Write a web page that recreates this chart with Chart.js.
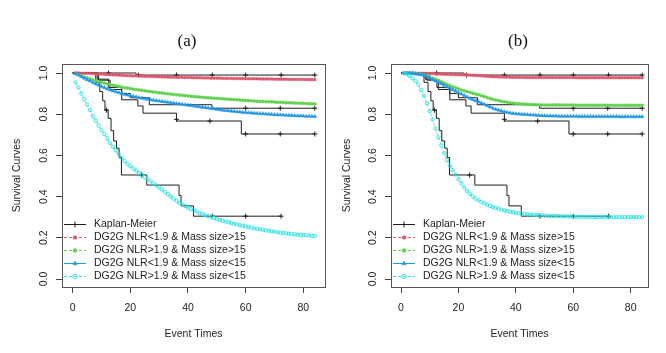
<!DOCTYPE html>
<html>
<head>
<meta charset="utf-8">
<script src="https://cdn.jsdelivr.net/npm/chart.js"></script>
<style>
  body { margin: 0; background: #fff; }
  canvas { position: absolute; top: 0; }
  #panelA { left: 0; }
  #panelB { left: 333px; }
</style>
</head>
<body>
<canvas id="panelA" width="333" height="353"></canvas>
<canvas id="panelB" width="333" height="353"></canvas>
<script>
// tiempos donde se evalúan las curvas del modelo
const tiempos = [
  1, 2, 3, 4, 5, 6, 7, 8, 9, 10,
  11, 12, 13, 14, 15, 16, 17, 18, 19, 20,
  21, 22, 23, 24, 25, 26, 27, 28, 29, 30,
  31, 32, 33, 34, 35, 36, 37, 38, 39, 40,
  41, 42, 43, 44, 45, 46, 47, 48, 49, 50,
  51, 52, 53, 54, 55, 56, 57, 58, 59, 60,
  61, 62, 63, 64, 65, 66, 67, 68, 69, 70,
  71, 72, 73, 74, 75, 76, 77, 78, 79, 80,
  81, 82, 83, 84
];
const ticksX = [0, 20, 40, 60, 80];
const ticksY = [0, 0.2, 0.4, 0.6, 0.8, 1.0];

const etiquetas = [
  'Kaplan-Meier',
  'DG2G NLR<1.9 & Mass size>15',
  'DG2G NLR>1.9 & Mass size>15',
  'DG2G NLR<1.9 & Mass size<15',
  'DG2G NLR>1.9 & Mass size<15'
];

// Kaplan-Meier (los mismos en los dos paneles)
const km1Tiempos = [0, 22, 84];
const km1Surv = [1.0, 0.99, 0.99];
const km1CensTiempos = [12.4, 22.8, 36, 48.4, 60, 72.3, 84];
const km1CensSurv = [1.0, 0.99, 0.99, 0.99, 0.99, 0.99, 0.99];

const km2Tiempos = [0, 8.5, 12.5, 17, 20, 26.6, 48.3, 84];
const km2Surv = [1.0, 0.97, 0.93, 0.90, 0.88, 0.846, 0.829, 0.829];
const km2CensTiempos = [60, 72, 84];
const km2CensSurv = [0.829, 0.829, 0.829];

const km3Tiempos = [0, 9, 13, 17, 22.6, 24.4, 36, 58.5, 84];
const km3Surv = [1.0, 0.965, 0.92, 0.87, 0.84, 0.805, 0.767, 0.704, 0.704];
const km3CensTiempos = [36, 47.6, 60, 72, 84];
const km3CensSurv = [0.775, 0.767, 0.704, 0.704, 0.704];

const km4Tiempos = [0, 8, 9.4, 10.4, 11.2, 12.3, 13.3, 14.2, 15.2, 16.1, 16.9, 25.7, 36.9, 37.6, 41.9, 72.3];
const km4Surv = [1.0, 0.955, 0.91, 0.865, 0.82, 0.78, 0.72, 0.67, 0.635, 0.59, 0.505, 0.456, 0.405, 0.355, 0.305, 0.305];
const km4CensTiempos = [11.7, 23.9, 48.4, 60, 72.3];
const km4CensSurv = [0.82, 0.505, 0.305, 0.305, 0.305];

// panel (a)
const rojoA = [
  1.000, 1.000, 0.999, 0.999, 0.998, 0.998, 0.997, 0.996, 0.995, 0.995,
  0.994, 0.993, 0.992, 0.991, 0.991, 0.990, 0.989, 0.988, 0.987, 0.987,
  0.986, 0.986, 0.985, 0.985, 0.984, 0.984, 0.983, 0.983, 0.982, 0.982,
  0.981, 0.981, 0.980, 0.980, 0.980, 0.979, 0.979, 0.979, 0.978, 0.978,
  0.978, 0.977, 0.977, 0.977, 0.976, 0.976, 0.976, 0.975, 0.975, 0.975,
  0.975, 0.974, 0.974, 0.974, 0.974, 0.973, 0.973, 0.973, 0.973, 0.972,
  0.972, 0.972, 0.972, 0.972, 0.971, 0.971, 0.971, 0.971, 0.971, 0.970,
  0.970, 0.970, 0.970, 0.970, 0.969, 0.969, 0.969, 0.969, 0.969, 0.969,
  0.968, 0.968, 0.968, 0.968
];
const verdeA = [
  0.997, 0.992, 0.986, 0.981, 0.976, 0.971, 0.967, 0.963, 0.959, 0.955,
  0.951, 0.947, 0.944, 0.941, 0.938, 0.935, 0.932, 0.929, 0.927, 0.925,
  0.922, 0.920, 0.918, 0.916, 0.914, 0.912, 0.910, 0.908, 0.906, 0.904,
  0.903, 0.901, 0.899, 0.898, 0.896, 0.895, 0.893, 0.892, 0.890, 0.889,
  0.887, 0.886, 0.885, 0.883, 0.882, 0.881, 0.880, 0.879, 0.878, 0.877,
  0.876, 0.875, 0.874, 0.873, 0.872, 0.871, 0.870, 0.869, 0.868, 0.867,
  0.866, 0.865, 0.864, 0.863, 0.862, 0.862, 0.861, 0.860, 0.860, 0.859,
  0.858, 0.858, 0.857, 0.856, 0.856, 0.855, 0.854, 0.854, 0.853, 0.853,
  0.852, 0.851, 0.851, 0.850
];
const azulA = [
  0.997, 0.990, 0.982, 0.975, 0.968, 0.961, 0.954, 0.947, 0.941, 0.935,
  0.929, 0.923, 0.918, 0.913, 0.909, 0.905, 0.901, 0.897, 0.893, 0.890,
  0.887, 0.884, 0.881, 0.878, 0.875, 0.873, 0.870, 0.868, 0.866, 0.864,
  0.862, 0.860, 0.858, 0.856, 0.854, 0.852, 0.850, 0.848, 0.846, 0.844,
  0.842, 0.840, 0.838, 0.836, 0.834, 0.832, 0.830, 0.828, 0.826, 0.824,
  0.822, 0.820, 0.818, 0.817, 0.815, 0.814, 0.812, 0.811, 0.809, 0.808,
  0.807, 0.806, 0.805, 0.804, 0.803, 0.802, 0.801, 0.800, 0.799, 0.798,
  0.797, 0.797, 0.796, 0.795, 0.794, 0.794, 0.793, 0.792, 0.792, 0.791,
  0.790, 0.790, 0.789, 0.789
];
const cianA = [
  0.955, 0.930, 0.900, 0.874, 0.847, 0.820, 0.790, 0.768, 0.745, 0.722,
  0.703, 0.682, 0.660, 0.642, 0.624, 0.605, 0.588, 0.572, 0.559, 0.548,
  0.537, 0.526, 0.515, 0.504, 0.494, 0.484, 0.474, 0.464, 0.454, 0.444,
  0.434, 0.422, 0.412, 0.401, 0.390, 0.379, 0.370, 0.362, 0.354, 0.346,
  0.339, 0.334, 0.327, 0.320, 0.315, 0.310, 0.305, 0.300, 0.296, 0.291,
  0.287, 0.283, 0.279, 0.276, 0.272, 0.268, 0.265, 0.261, 0.258, 0.255,
  0.252, 0.249, 0.246, 0.244, 0.241, 0.239, 0.236, 0.234, 0.232, 0.229,
  0.227, 0.225, 0.223, 0.222, 0.220, 0.218, 0.217, 0.215, 0.214, 0.213,
  0.212, 0.211, 0.210, 0.209
];

// panel (b)
const rojoB = [
  1.000, 1.000, 1.000, 1.000, 0.999, 0.999, 0.999, 0.998, 0.998, 0.997,
  0.997, 0.996, 0.995, 0.995, 0.994, 0.994, 0.993, 0.993, 0.992, 0.992,
  0.991, 0.991, 0.990, 0.990, 0.989, 0.988, 0.987, 0.986, 0.985, 0.984,
  0.983, 0.982, 0.982, 0.981, 0.981, 0.980, 0.980, 0.980, 0.979, 0.979,
  0.979, 0.979, 0.978, 0.978, 0.978, 0.978, 0.978, 0.978, 0.978, 0.978,
  0.978, 0.978, 0.978, 0.978, 0.978, 0.978, 0.978, 0.978, 0.978, 0.978,
  0.977, 0.977, 0.977, 0.977, 0.977, 0.977, 0.977, 0.977, 0.977, 0.977,
  0.977, 0.977, 0.977, 0.977, 0.977, 0.977, 0.977, 0.977, 0.977, 0.977,
  0.977, 0.977, 0.977, 0.977
];
const verdeB = [
  1.000, 1.000, 0.999, 0.998, 0.997, 0.996, 0.995, 0.993, 0.988, 0.982,
  0.975, 0.970, 0.965, 0.958, 0.951, 0.945, 0.939, 0.933, 0.928, 0.923,
  0.918, 0.914, 0.910, 0.906, 0.902, 0.898, 0.894, 0.890, 0.886, 0.881,
  0.876, 0.872, 0.869, 0.866, 0.863, 0.860, 0.858, 0.856, 0.854, 0.852,
  0.851, 0.850, 0.849, 0.848, 0.847, 0.847, 0.846, 0.846, 0.845, 0.845,
  0.845, 0.845, 0.845, 0.845, 0.845, 0.845, 0.845, 0.845, 0.845, 0.845,
  0.844, 0.844, 0.844, 0.844, 0.844, 0.844, 0.844, 0.844, 0.844, 0.844,
  0.844, 0.844, 0.843, 0.843, 0.843, 0.843, 0.843, 0.843, 0.843, 0.843,
  0.843, 0.843, 0.843, 0.843
];
const azulB = [
  1.000, 1.000, 0.999, 0.998, 0.996, 0.994, 0.992, 0.989, 0.984, 0.976,
  0.968, 0.961, 0.955, 0.948, 0.941, 0.933, 0.926, 0.919, 0.912, 0.905,
  0.898, 0.891, 0.884, 0.877, 0.871, 0.865, 0.860, 0.854, 0.848, 0.841,
  0.835, 0.829, 0.824, 0.820, 0.816, 0.812, 0.809, 0.806, 0.804, 0.802,
  0.801, 0.800, 0.799, 0.798, 0.797, 0.796, 0.795, 0.794, 0.793, 0.793,
  0.792, 0.792, 0.791, 0.791, 0.790, 0.790, 0.790, 0.790, 0.790, 0.790,
  0.790, 0.789, 0.789, 0.789, 0.789, 0.789, 0.789, 0.789, 0.789, 0.789,
  0.789, 0.789, 0.789, 0.789, 0.789, 0.788, 0.788, 0.788, 0.788, 0.788,
  0.788, 0.788, 0.788, 0.788
];
const cianB = [
  0.998, 0.994, 0.985, 0.975, 0.962, 0.945, 0.918, 0.888, 0.853, 0.815,
  0.775, 0.730, 0.688, 0.648, 0.610, 0.578, 0.550, 0.528, 0.507, 0.485,
  0.465, 0.445, 0.428, 0.413, 0.401, 0.390, 0.382, 0.374, 0.367, 0.361,
  0.355, 0.350, 0.345, 0.341, 0.337, 0.333, 0.330, 0.327, 0.324, 0.321,
  0.319, 0.317, 0.315, 0.314, 0.313, 0.312, 0.311, 0.310, 0.309, 0.308,
  0.307, 0.306, 0.306, 0.305, 0.305, 0.304, 0.304, 0.303, 0.303, 0.303,
  0.302, 0.302, 0.302, 0.302, 0.301, 0.301, 0.301, 0.301, 0.301, 0.300,
  0.300, 0.300, 0.300, 0.300, 0.300, 0.300, 0.300, 0.300, 0.300, 0.300,
  0.300, 0.300, 0.300, 0.300
];

const fuente = 'Liberation Sans';
const negro = '#1e1e1e';

// estilo de cada curva del modelo (colores de la paleta de R)
const estilos = [
  { color: '#DF536B', punto: 'rect', radio: 1.7, relleno: '#DF536B', guion: [3, 2] },
  { color: '#61D04F', punto: 'circle', radio: 1.5, relleno: '#61D04F', guion: [3, 2] },
  { color: '#2297E6', punto: 'triangle', radio: 2.1, relleno: '#2297E6', guion: [] },
  { color: '#28E2E5', punto: 'circle', radio: 1.7, relleno: 'rgba(0,0,0,0)', guion: [3, 2] }
];

const gruposKM = [
  { t: km1Tiempos, s: km1Surv, ct: km1CensTiempos, cs: km1CensSurv },
  { t: km2Tiempos, s: km2Surv, ct: km2CensTiempos, cs: km2CensSurv },
  { t: km3Tiempos, s: km3Surv, ct: km3CensTiempos, cs: km3CensSurv },
  { t: km4Tiempos, s: km4Surv, ct: km4CensTiempos, cs: km4CensSurv }
];

// dibuja el marco, el título del panel y la leyenda dentro del gráfico
const marcoYLeyenda = {
  id: 'marcoYLeyenda',
  afterDraw(chart, args, opts) {
    const ctx = chart.ctx;
    const a = chart.chartArea;
    ctx.save();
    ctx.strokeStyle = '#555';
    ctx.lineWidth = 1;
    ctx.strokeRect(Math.round(a.left) + 0.5, Math.round(a.top) + 0.5,
      Math.round(a.right - a.left), Math.round(a.bottom - a.top));

    ctx.fillStyle = '#111';
    ctx.font = '17px "Liberation Serif"';
    ctx.textAlign = 'center';
    ctx.textBaseline = 'middle';
    ctx.fillText(opts.texto, opts.x, 42);

    const items = chart.data.datasets.filter(d => d.leyenda);
    ctx.font = '10.5px "' + fuente + '"';
    ctx.textAlign = 'left';
    items.forEach((d, i) => {
      const y = Math.round(a.bottom - 63 + i * 13) + 0.5;
      ctx.setLineDash(d.borderDash || []);
      ctx.strokeStyle = d.borderColor;
      ctx.lineWidth = 1;
      ctx.beginPath();
      ctx.moveTo(a.left + 2, y);
      ctx.lineTo(a.left + 24, y);
      ctx.stroke();
      ctx.setLineDash([]);
      ctx.fillStyle = d.pointBackgroundColor;
      ctx.strokeStyle = d.pointBorderColor;
      ctx.lineWidth = d.pointBorderWidth;
      Chart.helpers.drawPoint(ctx, {
        pointStyle: d.pointStyle, radius: d.pointRadius + 0.5,
        borderWidth: d.pointBorderWidth, rotation: 0
      }, a.left + 13, y);
      ctx.fillStyle = negro;
      ctx.fillText(d.label, a.left + 32, y);
    });
    ctx.restore();
  }
};

function crearPanel(idCanvas, titulo, curvas, conf) {
  const datasets = [];

  gruposKM.forEach((g, k) => {
    datasets.push({
      label: etiquetas[0],
      data: g.t.map((t, i) => ({ x: t, y: g.s[i] })),
      stepped: 'before',
      borderColor: negro,
      borderWidth: 1,
      pointRadius: 0,
      fill: false,
      order: 10
    });
    datasets.push({
      label: etiquetas[0],
      data: g.ct.map((t, i) => ({ x: t, y: g.cs[i] })),
      showLine: false,
      borderColor: negro,
      borderDash: [],
      pointStyle: 'cross',
      pointRadius: 2.5,
      pointBorderColor: negro,
      pointBackgroundColor: negro,
      pointBorderWidth: 1,
      order: 9,
      leyenda: k === 0
    });
  });

  curvas.forEach((valores, k) => {
    const e = estilos[k];
    datasets.push({
      label: etiquetas[k + 1],
      data: tiempos.map((t, i) => ({ x: t, y: valores[i] })),
      borderColor: e.color,
      borderWidth: 0.8,
      borderDash: e.guion,
      pointStyle: e.punto,
      pointRadius: e.radio,
      pointBackgroundColor: e.relleno,
      pointBorderColor: e.color,
      pointBorderWidth: k === 3 ? 0.9 : 0.5,
      fill: false,
      order: 5 - k,
      leyenda: true
    });
  });

  const tick = { family: fuente, size: 10.5 };

  return new Chart(document.getElementById(idCanvas), {
    type: 'line',
    data: { datasets: datasets },
    plugins: [marcoYLeyenda],
    options: {
      responsive: false,
      animation: false,
      devicePixelRatio: 1,
      layout: { padding: { top: 64, right: conf.derecha, bottom: 0, left: 0 } },
      plugins: {
        legend: { display: false },
        tooltip: { enabled: false },
        title: { display: false },
        marcoYLeyenda: { texto: titulo, x: conf.tituloX }
      },
      scales: {
        x: {
          type: 'linear',
          min: conf.xMin,
          max: conf.xMax,
          afterBuildTicks: s => { s.ticks = ticksX.map(v => ({ value: v })); },
          afterFit: s => { s.height = 66; },
          grid: { drawOnChartArea: false, drawTicks: true, tickLength: 6, tickColor: '#444' },
          border: { display: false },
          ticks: { font: tick, color: negro, padding: 9, maxRotation: 0, autoSkip: false,
            callback: v => String(v) },
          title: { display: true, text: 'Event Times', color: negro,
            font: { family: fuente, size: 10.5 }, padding: { top: 0, bottom: 12.5 } }
        },
        y: {
          type: 'linear',
          min: -0.0388,
          max: 1.0437,
          afterBuildTicks: s => { s.ticks = ticksY.map(v => ({ value: v })); },
          afterFit: s => { s.width = conf.anchoY; },
          grid: { drawOnChartArea: false, drawTicks: true, tickLength: 6, tickColor: '#444' },
          border: { display: false },
          ticks: { font: tick, color: negro, padding: 5, minRotation: 90, maxRotation: 90,
            crossAlign: 'center', autoSkip: false, callback: v => v.toFixed(1) },
          title: { display: true, text: 'Survival Curves', color: negro,
            font: { family: fuente, size: 10.5 }, padding: { top: conf.tituloY, bottom: 0 } }
        }
      }
    }
  });
}

crearPanel('panelA', '(a)', [rojoA, verdeA, azulA, cianA],
  { xMin: -3.71, xMax: 87.53, anchoY: 62, derecha: 8, tituloX: 187, tituloY: 10.5 });
crearPanel('panelB', '(b)', [rojoB, verdeB, azulB, cianB],
  { xMin: -3.49, xMax: 86.03, anchoY: 58, derecha: 18, tituloX: 185, tituloY: 7.5 });
</script>
</body>
</html>
